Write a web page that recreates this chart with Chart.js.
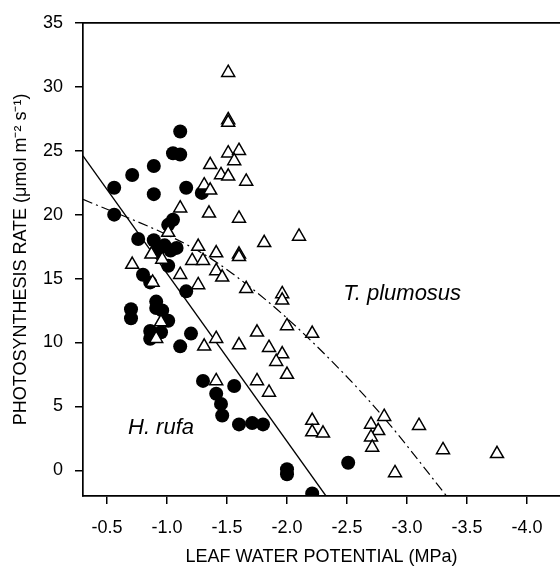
<!DOCTYPE html>
<html>
<head>
<meta charset="utf-8">
<script src="https://cdn.jsdelivr.net/npm/chart.js@4/dist/chart.umd.min.js"></script>
<style>
  html, body { margin: 0; padding: 0; background: #fff; }
</style>
</head>
<body>
<canvas id="photoChart" width="560" height="571"></canvas>
<script>
// H. rufa (filled circles)
const rufaX = [-0.56, -0.56, -0.71, -0.89, -0.89, -1.11, -1.05, -1.11, -1.16, -1.29,
               -0.76, -0.89, -0.92, -0.98, -1.03, -1.08, -1.01, -1.05, -1.01, -0.80,
               -0.86, -1.16, -0.91, -0.91, -0.96, -0.70, -0.70, -1.01, -0.86, -0.86,
               -0.95, -1.20, -1.11, -1.30, -1.41, -1.45, -1.46, -1.56, -1.60, -1.71,
               -1.80, -2.00, -2.00, -2.21, -2.51];
const rufaY = [22.1, 20.0, 23.1, 23.8, 21.6, 26.5, 24.8, 24.7, 22.1, 21.7,
               18.1, 18.0, 17.1, 17.6, 17.2, 17.4, 19.2, 19.6, 16.0, 15.3,
               14.7, 14.0, 13.2, 12.7, 12.5, 12.6, 11.9, 11.7, 10.9, 10.3,
               10.8, 10.7, 9.7, 7.0, 6.0, 5.2, 4.3, 6.6, 3.6, 3.7,
               3.6, 0.1, -0.3, -1.8, 0.6];

// T. plumosus (open triangles)
const plumX = [-1.51, -1.51, -1.51, -1.36, -1.51, -1.60, -1.56, -1.45, -1.51, -1.31,
               -1.36, -1.66, -1.11, -1.35, -1.60, -1.81, -2.10, -1.26, -1.41, -1.60,
               -1.60, -1.21, -1.30, -0.87, -0.96, -1.01, -0.71, -1.11, -1.41, -1.46,
               -1.26, -0.88, -1.66, -1.96, -1.96, -2.00, -2.21, -1.75, -1.41, -1.31,
               -1.60, -1.85, -1.96, -1.91, -2.00, -0.95, -0.91, -1.41, -1.75, -1.85,
               -2.21, -2.21, -2.30, -2.81, -2.70, -2.76, -2.70, -2.71, -3.10, -2.90,
               -3.30, -3.75];
const plumY = [31.1, 27.4, 27.2, 23.9, 24.8, 25.0, 24.2, 23.1, 23.0, 22.3,
               21.9, 22.6, 20.5, 20.1, 19.7, 17.8, 18.3, 17.5, 17.0, 16.9,
               16.7, 16.4, 16.4, 16.9, 16.5, 18.6, 16.1, 15.3, 15.6, 15.1,
               14.5, 14.7, 14.2, 13.8, 13.3, 11.3, 10.7, 10.8, 10.3, 9.7,
               9.8, 9.6, 9.1, 8.5, 7.5, 11.6, 10.3, 7.0, 7.0, 6.1,
               3.9, 3.0, 2.9, 4.2, 3.6, 3.1, 2.6, 1.8, 3.5, -0.2,
               1.6, 1.3];

// fitted lines
const rufaFitX = [-0.3, -2.325];
const rufaFitY = [24.6, -2.0];
const plumFitX = [-0.3, -1.05, -1.36, -1.67, -2.0, -2.44, -2.81, -3.33];
const plumFitY = [21.2, 18.2, 16.6, 14.5, 11.9, 7.9, 4.1, -2.0];

const xTicks = [-0.5, -1.0, -1.5, -2.0, -2.5, -3.0, -3.5, -4.0];
const yTicks = [0, 5, 10, 15, 20, 25, 30, 35];

const speciesLabels = [
  { text: 'T. plumosus', x: -2.96, y: 13.8 },
  { text: 'H. rufa', x: -0.95, y: 3.3 }
];

const FONT = '"Liberation Sans", Arial, Helvetica, sans-serif';
Chart.defaults.font.family = FONT;
Chart.defaults.color = '#000';

const pts = (xs, ys) => xs.map((x, i) => ({ x: x, y: ys[i] }));

// top frame line + italic species names
const extras = {
  id: 'extras',
  afterDraw(chart) {
    const { ctx, chartArea: a, scales } = chart;
    ctx.save();
    ctx.strokeStyle = '#000';
    ctx.lineWidth = 1.7;
    ctx.beginPath();
    ctx.moveTo(a.left, a.top);
    ctx.lineTo(a.right, a.top);
    ctx.stroke();

    ctx.fillStyle = '#000';
    ctx.font = 'italic 22px ' + FONT;
    ctx.textAlign = 'center';
    ctx.textBaseline = 'middle';
    speciesLabels.forEach(l => {
      ctx.fillText(l.text, scales.x.getPixelForValue(l.x), scales.y.getPixelForValue(l.y));
    });
    ctx.restore();
  }
};

new Chart(document.getElementById('photoChart'), {
  type: 'scatter',
  data: {
    datasets: [
      {
        label: 'T. plumosus',
        data: pts(plumX, plumY),
        pointStyle: 'triangle',
        pointRadius: 7.5,
        borderColor: '#000',
        borderWidth: 1.5,
        backgroundColor: '#fff',
        order: 0
      },
      {
        label: 'H. rufa',
        data: pts(rufaX, rufaY),
        pointStyle: 'circle',
        pointRadius: 7,
        borderWidth: 0,
        backgroundColor: '#000',
        order: 1
      },
      {
        label: 'H. rufa fit',
        data: pts(rufaFitX, rufaFitY),
        showLine: true,
        pointRadius: 0,
        borderColor: '#000',
        borderWidth: 1.3,
        order: 2
      },
      {
        label: 'T. plumosus fit',
        data: pts(plumFitX, plumFitY),
        showLine: true,
        pointRadius: 0,
        borderColor: '#000',
        borderWidth: 1.2,
        borderDash: [10, 4, 2, 4],
        cubicInterpolationMode: 'monotone',
        order: 3
      }
    ]
  },
  options: {
    responsive: false,
    animation: false,
    events: [],
    layout: { autoPadding: false, padding: { top: 17, right: 0, left: 0, bottom: 0 } },
    plugins: { legend: { display: false }, tooltip: { enabled: false } },
    scales: {
      x: {
        type: 'linear',
        reverse: true,
        min: -4.275,
        max: -0.3,
        afterFit: s => { s.height = 75; },
        afterBuildTicks: s => { s.ticks = xTicks.map(v => ({ value: v })); },
        ticks: {
          callback: v => v.toFixed(1),
          font: { size: 18 },
          padding: 13,
          maxRotation: 0,
          autoSkip: false
        },
        grid: { drawOnChartArea: false, tickLength: 8, color: '#000', lineWidth: 1.5 },
        border: { color: '#000', width: 1.7 },
        title: {
          display: true,
          text: 'LEAF WATER POTENTIAL (MPa)',
          font: { size: 18 },
          padding: { top: 0, bottom: 3 }
        }
      },
      y: {
        type: 'linear',
        min: -2,
        max: 35,
        afterFit: s => { s.width = 83; },
        afterBuildTicks: s => { s.ticks = yTicks.map(v => ({ value: v })); },
        ticks: { font: { size: 18 }, padding: 12 },
        grid: { drawOnChartArea: false, tickLength: 8, color: '#000', lineWidth: 1.5 },
        border: { color: '#000', width: 1.7 },
        title: {
          display: true,
          text: 'PHOTOSYNTHESIS RATE (\u03bcmol m\u207b\u00b2 s\u207b\u00b9)',
          font: { size: 18 },
          padding: { top: 10, bottom: 0 }
        }
      }
    }
  },
  plugins: [extras]
});
</script>
</body>
</html>
